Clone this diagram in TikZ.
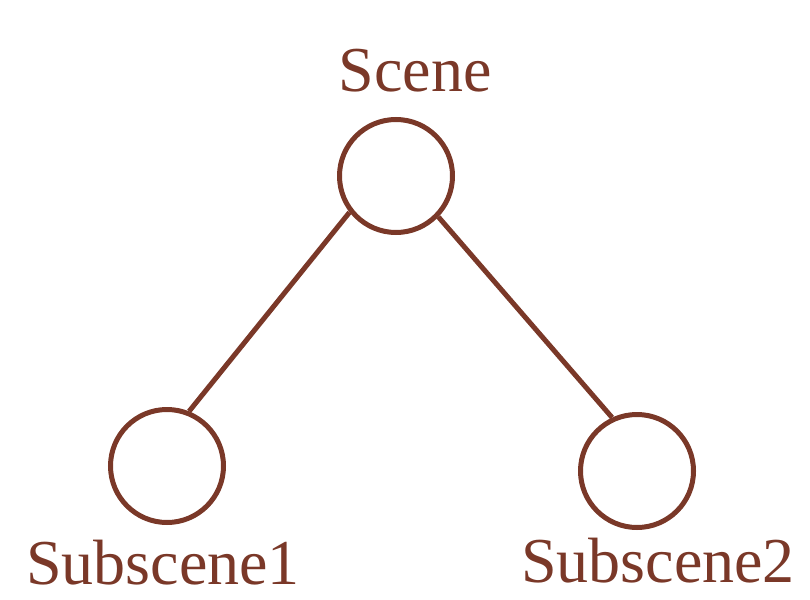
\documentclass[tikz,border=0pt]{standalone}
\usepackage{fontspec}
\setmainfont{Liberation Serif}
\definecolor{brn}{RGB}{122,56,40}
\begin{document}
\begin{tikzpicture}[x=1pt,y=-1pt,
  circ/.style={circle,draw=brn,line width=5pt,minimum size=113pt,inner sep=0pt},
  lbl/.style={text=brn,font=\fontsize{64}{68}\selectfont,anchor=base,inner sep=0pt,text depth=0pt},
  edge/.style={draw=brn,line width=5pt}]
\useasboundingbox (0,0) rectangle (810,599);
\node[circ] (sc) at (396,176) {};
\node[circ] (s1) at (167,466) {};
\node[circ] (s2) at (637,471) {};
\node[lbl] (tsc) at (415,92) {Scene};
\node[lbl] (ts1) at (163,584) {Subscene1};
\node[lbl] (ts2) at (658,582) {Subscene2};
\draw[edge] (sc.218) -- (s1.68);
\draw[edge] (sc.-44) -- (s2.115);
\end{tikzpicture}
\end{document}
